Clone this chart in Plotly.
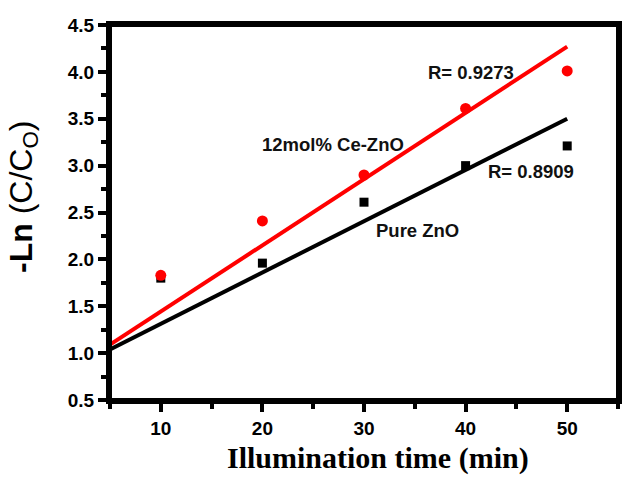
import plotly.graph_objects as go

# Data
time_min = [10, 20, 30, 40, 50]
ce_zno = [1.83, 2.41, 2.90, 3.61, 4.01]
pure_zno = [1.80, 1.96, 2.61, 3.00, 3.21]

fit_x = [5, 50]
ce_fit = [1.09, 4.27]
pure_fit = [1.04, 3.50]

x_ticks = [10, 20, 30, 40, 50]
y_ticks = [0.5, 1.0, 1.5, 2.0, 2.5, 3.0, 3.5, 4.0, 4.5]

labels = [
    dict(text="R= 0.9273", x=36.1, y=3.99),
    dict(text="12mol% Ce-ZnO", x=19.8, y=3.23),
    dict(text="R= 0.8909", x=42.0, y=2.94),
    dict(text="Pure ZnO", x=31.0, y=2.31),
]

fig = go.Figure()
fig.add_trace(go.Scatter(x=fit_x, y=ce_fit, mode="lines",
                         line=dict(color="#ff0000", width=4), showlegend=False))
fig.add_trace(go.Scatter(x=fit_x, y=pure_fit, mode="lines",
                         line=dict(color="#000000", width=4), showlegend=False))
fig.add_trace(go.Scatter(x=time_min, y=pure_zno, mode="markers",
                         marker=dict(symbol="square", size=9, color="#000000"),
                         showlegend=False))
fig.add_trace(go.Scatter(x=time_min, y=ce_zno, mode="markers",
                         marker=dict(symbol="circle", size=11, color="#ff0000"),
                         showlegend=False))

for lb in labels:
    fig.add_annotation(x=lb["x"], y=lb["y"], text="<b>" + lb["text"] + "</b>",
                       showarrow=False, xanchor="left", yanchor="middle",
                       font=dict(family="Liberation Sans", size=18.5, color="#111"))

# axis titles
fig.add_annotation(xref="paper", yref="paper", x=0.528, y=-0.206,
                   text="<b>Illumination time (min)</b>", showarrow=False,
                   xanchor="center", yanchor="bottom",
                   font=dict(family="Liberation Serif", size=30, color="#000"))
fig.add_annotation(xref="paper", yref="paper", x=-0.1715, y=0.541,
                   text="<b>-Ln</b> (C/C<sub>O</sub>)", showarrow=False,
                   textangle=-90, xanchor="center", yanchor="middle",
                   font=dict(family="Liberation Sans", size=32, color="#000"))

# frame
fig.add_shape(type="rect", xref="paper", yref="paper", x0=0, y0=0, x1=1, y1=1,
              line=dict(color="#000", width=4), layer="above")

tickfont = dict(family="Liberation Sans", size=19, color="#000")

fig.update_xaxes(range=[5, 55], tickvals=x_ticks,
                 ticktext=["<b>%d</b>" % v for v in x_ticks],
                 showline=True, linewidth=4, linecolor="#000", mirror=True,
                 ticks="outside", ticklen=8, tickwidth=4, tickcolor="#000",
                 minor=dict(ticks="outside", tickvals=[5, 15, 25, 35, 45, 55],
                            ticklen=5, tickwidth=4, tickcolor="#000"),
                 showgrid=False, zeroline=False, tickfont=tickfont)
fig.update_yaxes(range=[0.5, 4.5], tickvals=y_ticks,
                 ticktext=["<b>%.1f</b>" % v for v in y_ticks],
                 showline=True, linewidth=4, linecolor="#000", mirror=True,
                 ticks="outside", ticklen=8, tickwidth=4, tickcolor="#000",
                 minor=dict(ticks="outside", dtick=0.25, ticklen=5, tickwidth=4,
                            tickcolor="#000"),
                 showgrid=False, zeroline=False, tickfont=tickfont)

fig.update_layout(width=625, height=478,
                  margin=dict(l=110, r=3, t=25, b=78),
                  paper_bgcolor="white", plot_bgcolor="white")

fig.write_html("out.html")
